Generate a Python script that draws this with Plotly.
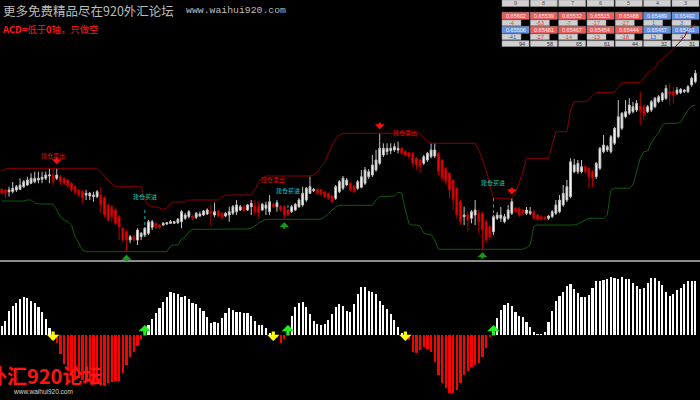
import plotly.graph_objects as go

# ---------------- price data (one candle per bar) ----------------
open_ = [70.7, 70, 68.3, 68.3, 70, 70.7, 73.3, 75, 76.7, 78.3,
         80, 80.7, 81.7, 84, 85, 81.7, 83.3, 81.7, 80, 76.7,
         73.3, 70, 68.3, 65, 64, 63.3, 63.3, 65, 62.7, 55,
         53.3, 50, 43.3, 31.7, 28.3, 20, 23.3, 20, 23.3, 25,
         26.7, 32.7, 36.7, 35, 35, 36, 36.7, 36.7, 37.3, 38.3,
         41.7, 43.3, 44, 42.7, 44, 45, 46, 48.3, 45, 49,
         46.7, 44, 45, 46.7, 48.3, 50, 53.3, 50, 53.3, 54,
         53.3, 50, 51.7, 48.3, 55.7, 53.3, 53.3, 53.3, 50, 48.3,
         50, 53.3, 55, 60, 66.7, 69.3, 70.7, 70, 68.3, 66.7,
         64, 61.7, 68.3, 71.7, 75, 76.7, 74, 71.7, 72.7, 76.7,
         83.3, 85, 90, 96.7, 105, 108.3, 109.3, 110, 110, 111.7,
         108.3, 107.3, 106.7, 101.7, 100, 96.7, 100, 103.3, 104, 106.7,
         100, 91.7, 86.7, 80, 71.7, 58.3, 43.3, 45, 41.7, 45,
         46.7, 46.7, 38.3, 33.3, 28.3, 41.7, 41.7, 38.3, 41.7, 46.7,
         51.7, 51.7, 50, 46.7, 46.7, 48.3, 45, 43.3, 42.7, 41.7,
         43.3, 46.7, 48.3, 55, 60, 63.3, 88.3, 88.3, 88.3, 93.3,
         91.7, 88.3, 83.3, 91.7, 108.3, 110, 108.3, 116.7, 123.3, 131.7,
         143.3, 146.7, 148.3, 150, 154, 153.3, 148.3, 150, 153.3, 158.3,
         160, 161.7, 168.3, 168.3, 166.7, 167.3, 168.3, 168.3, 175, 178.3]
high = [71.5, 71, 73.3, 78, 75, 81.7, 80, 83.3, 86.7, 88.3,
        88.3, 88.3, 88.3, 91.7, 91.7, 91.7, 85, 83, 81, 78,
        75, 71, 70, 70, 68, 68.3, 70, 73.3, 63.3, 56,
        55, 52, 45, 33, 30, 25, 25, 31.7, 28, 33,
        40, 40, 38, 36, 38, 38, 40, 39, 42, 50,
        47, 50, 45, 48, 48.3, 50, 51.7, 55, 57.3, 50,
        48, 48, 53.3, 55, 60, 55, 55, 56, 60, 60,
        58.3, 57, 58.3, 65, 57, 60, 55, 55, 51, 55,
        57, 62, 73.3, 73, 83.3, 72, 72, 71, 69, 67.5,
        65, 75, 80, 84, 82, 78, 75, 80, 90, 93,
        91, 105, 110, 126.7, 116.7, 116.7, 116.7, 116.7, 118.3, 113,
        110, 108, 108, 103, 101, 105, 108, 116.7, 117, 108,
        101, 93, 88, 81, 73, 60, 53.3, 48, 50, 60,
        50, 48, 40, 35, 45, 48, 53, 46, 55, 61.7,
        53, 53, 51, 53, 53, 50, 46, 45, 44, 45,
        50, 60, 65, 75, 80, 101.7, 101, 100, 100, 95,
        93, 90, 98, 113, 125, 115, 125, 133, 160, 148,
        160, 161.7, 158.3, 160, 168.3, 155, 155, 160, 163, 165,
        168, 175, 176.7, 173.3, 173, 172, 171, 175, 183.3, 190]
low = [65, 61.7, 63.3, 66.7, 68, 70, 72, 74, 76, 76.7,
       76.7, 76.7, 80, 76.7, 75, 80, 75, 75, 72, 68,
       66, 63, 56.7, 60, 60, 58.3, 61.7, 46.7, 43, 38,
       38.3, 35, 20, 18, 8.3, 16.7, 18, 15, 20, 23,
       25, 30, 31, 31, 34, 35, 36, 36, 36, 31.7,
       40, 41.7, 40, 41, 43, 44, 45, 33.3, 42.7, 42,
       40, 43, 38.3, 45, 45, 49, 48, 49, 45, 45,
       41.7, 49, 45, 45, 52, 48.3, 48, 40.7, 44, 47,
       49, 52, 53.3, 58, 66, 68, 65, 64, 62, 60,
       56.7, 60, 67, 70, 74, 68, 67, 70, 71.7, 75,
       81, 83, 88.3, 95, 103, 105, 106, 108, 106.7, 105,
       103, 101, 93.3, 90, 86.7, 95, 98, 101.7, 102, 85,
       78.3, 75, 62, 50, 41.7, 35, 35, 28.3, 36.7, 35,
       26.7, 10.7, 16.7, 20, 25, 40, 38, 36.7, 40, 45,
       47, 43, 45, 45, 45, 40, 39, 39, 40, 40,
       42, 45, 46.7, 53.3, 58, 61.7, 86.7, 86, 86.7, 86,
       71.7, 73, 81, 90, 106.7, 108, 106.7, 115, 121.7, 130,
       141.7, 145, 146.7, 148, 135, 140, 147, 148, 151.7, 156.7,
       158, 160, 155, 156.7, 165, 166, 167, 167, 173.3, 176.7]
close = [67.3, 66.7, 70, 71.7, 73.3, 75, 78.3, 80, 81.7, 81.7,
         81.7, 82.7, 85, 85, 78.3, 85, 78.3, 76.7, 74, 70,
         67.3, 65, 61.7, 66.7, 66.7, 65, 68.3, 55, 45, 40,
         43.3, 36.7, 33.3, 20, 20, 23.3, 20, 30, 26.7, 31.7,
         38.3, 38.3, 32.7, 32.7, 36.7, 37.3, 38.3, 38.3, 40.7, 48.3,
         45, 48.3, 41.7, 46.7, 46, 49, 50, 46.7, 48.3, 44,
         42.7, 46.7, 48.3, 53.3, 55, 53.3, 49, 55, 56.7, 48.3,
         47.3, 55.7, 55, 58.3, 53.3, 57.3, 50, 45, 45, 53.3,
         55.7, 60, 66.7, 71.7, 73.3, 70.7, 66.7, 66, 63.3, 61.7,
         58.3, 73.3, 78.3, 81.7, 80, 70, 68.3, 78.3, 83.3, 90,
         88.3, 95, 100, 111.7, 111.7, 111.7, 111.7, 113.3, 111.7, 106.7,
         105, 103.3, 96.7, 95, 93.3, 103.3, 106.7, 110, 110, 88.3,
         81.7, 78.3, 70, 60, 45, 38.3, 45, 40, 48.3, 50,
         38.3, 30, 20, 23.3, 43.3, 45, 45, 43.3, 50, 58.3,
         48.3, 45, 46.7, 50, 48.3, 41.7, 40.7, 40.7, 40.7, 44,
         48.3, 55, 60, 66.7, 73.3, 98.3, 95, 96.7, 93.3, 88.3,
         83.3, 81.7, 96.7, 111.7, 115, 113.3, 123.3, 131.7, 143.3, 146.7,
         148.3, 155, 153.3, 156.7, 149.3, 145, 153.3, 158.3, 161.7, 163.3,
         166.7, 171.7, 166, 165, 170, 170.7, 170, 173.3, 181.7, 186.7]

# channel lines
upper_band = [89, 91, 91.7, 91.7, 91.7, 91.7, 91.7, 91.7, 91.7, 91.7,
              91.7, 91.7, 91.7, 91.7, 91.7, 91.7, 91.7, 91.7, 91.7, 91.7,
              91.7, 91.7, 91.7, 91.7, 91.7, 91.7, 91.7, 88, 84, 80,
              76, 73.3, 73.3, 73.3, 73.3, 73.3, 73.3, 73.3, 73.3, 60,
              55, 53.3, 53.3, 52, 50.7, 51.7, 56, 58, 58, 57.7,
              58, 60, 60, 60, 60, 60, 60, 60, 60, 60,
              63, 65, 65, 65, 65, 65, 65, 65, 65, 70,
              78, 82, 84, 84, 84, 84, 84, 84, 84, 84,
              84, 84, 84, 84, 84, 85, 88, 93, 97, 107,
              114, 121, 125, 126.7, 126.7, 126.7, 126.7, 126.7, 126.7, 126.7,
              126.7, 126.7, 126.7, 126.7, 126.7, 126.7, 126.7, 126.7, 126.7, 126.7,
              126.7, 126.7, 126.7, 126.7, 126.7, 122, 118.3, 116.7, 116.7, 116.7,
              116.7, 116.7, 116.7, 116.7, 116.7, 116.7, 116.7, 116.7, 116.7, 116.7,
              110, 100, 90, 75, 61.7, 61.7, 61.7, 61.7, 61.7, 61.7,
              67, 77, 88, 101.7, 101.7, 101.7, 101.7, 101.7, 101.7, 101.7,
              115, 128.3, 128.3, 128.3, 128.3, 150, 158.3, 158.3, 158.3, 158.3,
              160, 165, 167.3, 167.3, 167.3, 167.3, 167.3, 168, 173, 177,
              177.3, 177.3, 177.3, 177.3, 177.3, 182, 187, 190, 192, 198,
              202, 205, 207, 211, 215, 220, 223, 230, 233, 236]
lower_band = [59, 59, 59, 59, 59, 59, 59, 60, 60, 57,
              56, 56, 56, 56, 56, 50, 43, 40, 38.3, 35,
              23, 17, 10, 8.3, 8.3, 8.3, 8.3, 8.3, 8.3, 8.3,
              8.3, 8.3, 8.3, 8.3, 8.3, 8.3, 8.3, 8.3, 8.3, 8.3,
              8.3, 8.3, 8.3, 8.3, 8.3, 8.3, 14, 15, 15, 21,
              23, 28, 30.7, 30.7, 30.7, 30.7, 30.7, 30.7, 30.7, 30.7,
              30.7, 30.7, 31, 31, 31, 31, 31, 31, 32, 34,
              37, 39, 40.7, 40.7, 40.7, 40.7, 40.7, 40.7, 40.7, 40.7,
              40.7, 40.7, 40.7, 40.7, 40.7, 40.7, 40.7, 40.7, 43, 47,
              50, 53, 54.7, 54.7, 54.7, 54.7, 54.7, 54.7, 54.7, 54.7,
              54.7, 54.7, 60, 63.3, 63.3, 63.3, 63.3, 64, 67.7, 67,
              50, 36, 35, 35, 34, 27, 25.7, 25.7, 20, 10.7,
              10.7, 10.7, 10.7, 10.7, 10.7, 10.7, 10.7, 10.7, 10.7, 10.7,
              10.7, 10.7, 10.7, 10.7, 10.7, 10.7, 10.7, 10.7, 10.7, 10.7,
              10.7, 10.7, 10.7, 12.5, 15, 34, 35, 35, 35, 35,
              35, 35, 35, 35, 35, 35, 35, 36, 38, 40,
              41.7, 41.7, 41.7, 41.7, 41.7, 45, 70, 71.7, 71.7, 71.7,
              71.7, 71.7, 75, 88, 102, 108.3, 109, 117, 123, 127,
              135, 136.7, 136.7, 136.7, 136.7, 138, 144, 150, 154, 155]

# oscillator (ACD) histogram
acd = [9.3, 14.3, 24, 29, 31.7, 35.7, 37.7, 36.7, 34.3, 31.7,
       27.7, 23.3, 16, 6.7, -1.5, -7.7, -19.3, -29, -35, -40,
       -41.7, -43.3, -45, -45.7, -46.7, -47.7, -48.3, -49, -51, -48.3,
       -46.7, -45.7, -45.7, -37.7, -30, -22.3, -16.7, -11, -4, 2,
       10, 15.7, 21.7, 26.7, 32.7, 37.7, 42.7, 42.3, 41, 38.3,
       39, 36, 31.7, 31, 26.7, 24.3, 18.3, 12.3, 13.3, 12.3,
       16.7, 21.7, 26.7, 25, 23.3, 23.3, 22.3, 21.7, 19, 14,
       10, 10, 6.7, 2.3, -1, -2.5, -7.7, -4, 3, 19,
       27.7, 32.3, 33.3, 28.3, 21, 14.3, 11, 10, 11, 15,
       20.7, 27.7, 30.7, 29, 24.3, 23.3, 30.7, 41, 47.7, 47.7,
       44.3, 42.7, 41, 34.3, 30, 25.7, 21, 15, 8.3, 1.7,
       -1, -5, -16.7, -18.3, -15, -12.3, -14.3, -16.7, -26.7, -40,
       -47.7, -53.3, -58.3, -58.3, -55, -47.7, -40, -35.7, -31.7, -30,
       -27.7, -21.7, -13.3, -2.3, 2, 16.7, 25, 30, 32.3, 29,
       23.3, 19, 17.7, 13.3, 8.3, 3.3, 1, 1, 3.3, 13.3,
       24.3, 33.7, 39, 43.3, 49, 51, 46, 41.7, 38.3, 38.3,
       40, 47.3, 54, 54, 55, 56, 58.3, 57.3, 56, 57.7,
       56, 55.7, 52.3, 49, 45.7, 47.3, 52.3, 56.7, 56.7, 54.3,
       50, 42.7, 39, 40.7, 45, 46.7, 51, 54.3, 54.3, 53.7]

# signals
sell_idx = [15, 103, 139]
buy_idx = [34, 77, 131]
cross_down_idx = [14, 74, 110]
cross_up_idx = [39, 78, 134]
sell_label_price = [104.3, 81, 128]
buy_label_price = [63.3, 69.3, 77.3]
buy_line_top = [50, 55, 61.7]
buy_line_bottom = [33.3, 48.3, 43.3]
sell_label = "建仓卖出"
buy_label = "建仓买进"

# quote table
table_headers = ["9", "8", "7", "6", "5", "4", "3"]
row1_price = [0.65602, 0.65539, 0.65532, 0.65515, 0.65488, 0.65489, 0.65492]
row1_diff = [-4, -63, -7, -17, -27, 1, 3]
row1_dir = ["dn", "dn", "dn", "dn", "dn", "up", "up"]
row2_price = [0.65506, 0.65481, 0.65467, 0.65454, 0.65444, 0.65457, 0.65461]
row2_diff = [-41, -27, -14, -13, -18, 13, 4]
row2_dir = ["up", "dn", "dn", "dn", "dn", "up", "up"]
row_counts = [94, 58, 65, 61, 44, 32, 31]

title_cn = "更多免费精品尽在920外汇论坛"
title_url = "www.waihui920.com"
acd_note = "<b>ACD=</b>低于<b>0</b>轴，只做空"
watermark = "外汇920论坛"

# ---------------- figure ----------------
W, H = 700, 400
n = len(close)
xs = list(range(n))
BAR_PX = 3.67
x_lo = -1.7 / BAR_PX
x_hi = x_lo + W / BAR_PX


def pxx(p):
    return p / W


def pxy(p):
    return 1 - p / H


fig = go.Figure()

fig.add_trace(go.Candlestick(
    x=xs, open=open_, high=high, low=low, close=close,
    increasing=dict(fillcolor="#ffffff", line=dict(color="#c4c4c4", width=1)),
    decreasing=dict(fillcolor="#ff0000", line=dict(color="#b80000", width=1)),
    whiskerwidth=0, xaxis="x", yaxis="y", showlegend=False, hoverinfo="skip"))

fig.add_trace(go.Scatter(x=xs, y=upper_band, mode="lines",
                         line=dict(color="#8a0000", width=1), xaxis="x", yaxis="y",
                         showlegend=False, hoverinfo="skip"))
fig.add_trace(go.Scatter(x=xs, y=lower_band, mode="lines",
                         line=dict(color="#0f5a0f", width=1), xaxis="x", yaxis="y",
                         showlegend=False, hoverinfo="skip"))

dx, dy = [], []
for i, t, b in zip(cross_up_idx, buy_line_top, buy_line_bottom):
    dx += [i, i, None]
    dy += [t, b, None]
fig.add_trace(go.Scatter(x=dx, y=dy, mode="lines",
                         line=dict(color="#18b4b4", width=1, dash="dot"),
                         xaxis="x", yaxis="y", showlegend=False, hoverinfo="skip"))

bar_colors = ["#ffffff" if v >= 0 else "#ff0000" for v in acd]
fig.add_trace(go.Bar(x=xs, y=acd, width=0.6, marker=dict(color=bar_colors, line=dict(width=0)),
                     xaxis="x2", yaxis="y2", showlegend=False, hoverinfo="skip"))

ann = []
# top-panel arrows
for i in sell_idx:
    ann.append(dict(x=i, y=high[i], xref="x", yref="y", text="", showarrow=True,
                    arrowhead=1, arrowsize=0.75, arrowwidth=2.2, arrowcolor="#ff1010",
                    ax=0, ay=-8, yshift=4))
for i in buy_idx:
    ann.append(dict(x=i, y=low[i], xref="x", yref="y", text="", showarrow=True,
                    arrowhead=1, arrowsize=0.75, arrowwidth=2.2, arrowcolor="#1a9a1a",
                    ax=0, ay=8, yshift=-3))
# labels
for i, p in zip(cross_down_idx, sell_label_price):
    ann.append(dict(x=i, y=p, xref="x", yref="y", text=sell_label, showarrow=False,
                    font=dict(size=6, color="#e01010", family="Noto Sans CJK SC")))
for i, p in zip(cross_up_idx, buy_label_price):
    ann.append(dict(x=i, y=p, xref="x", yref="y", text=buy_label, showarrow=False,
                    font=dict(size=6, color="#18c8c8", family="Noto Sans CJK SC")))
# oscillator arrows
for i in cross_down_idx:
    ann.append(dict(x=i, y=0, xref="x2", yref="y2", text="", showarrow=True,
                    arrowhead=1, arrowsize=0.65, arrowwidth=3.2, arrowcolor="#ffff00",
                    ax=0, ay=-11, yshift=-6))
for i in cross_up_idx:
    ann.append(dict(x=i, y=0, xref="x2", yref="y2", text="", showarrow=True,
                    arrowhead=1, arrowsize=0.65, arrowwidth=3.2, arrowcolor="#22ee22",
                    ax=0, ay=12, yshift=10))

# header texts
ann.append(dict(x=pxx(1), y=pxy(10), xref="paper", yref="paper", xanchor="left", yanchor="middle",
                text=title_cn, showarrow=False,
                font=dict(size=12.5, color="#bdbdbd", family="Noto Sans CJK SC")))
ann.append(dict(x=pxx(184), y=pxy(10), xref="paper", yref="paper", xanchor="left", yanchor="middle",
                text=title_url, showarrow=False,
                font=dict(size=9.8, color="#bdbdbd", family="Liberation Mono")))
ann.append(dict(x=pxx(0), y=pxy(29.5), xref="paper", yref="paper", xanchor="left", yanchor="middle",
                text=acd_note, showarrow=False,
                font=dict(size=9.4, color="#ff1a1a", family="Noto Sans CJK SC")))
ann.append(dict(x=pxx(-15), y=pxy(375), xref="paper", yref="paper", xanchor="left", yanchor="middle",
                text="<b>" + watermark + "</b>", showarrow=False,
                font=dict(size=20, color="#ff1414", family="Noto Sans CJK SC")))
ann.append(dict(x=pxx(11), y=pxy(391), xref="paper", yref="paper", xanchor="left", yanchor="middle",
                text=title_url, showarrow=False,
                font=dict(size=6.5, color="#d8d8d8", family="Liberation Sans")))

shapes = [dict(type="line", xref="paper", yref="paper", x0=0, x1=1, y0=pxy(261), y1=pxy(261),
               line=dict(color="#8c8c8c", width=2))]

# quote table
T_X0, T_STEP, T_W, T_SMALL = 502, 28.33, 27, 19
RED_CELL, BLUE_CELL, GREY_CELL = "#ef5a5a", "#5f8fe3", "#d0d0d0"
rows_y = dict(head=(0, 6.5), p1=(12.3, 19.3), d1=(20, 25.7), p2=(26.3, 33.3), d2=(34, 39.7), cnt=(40.7, 46.5))


def cell(x0, x1, y0, y1, fill):
    shapes.append(dict(type="rect", xref="paper", yref="paper", layer="below",
                       x0=pxx(x0), x1=pxx(x1), y0=pxy(y1), y1=pxy(y0),
                       fillcolor=fill, line=dict(color="#9a9a9a", width=0.5)))


def ctext(txt, x, y, color, anchor="center"):
    ann.append(dict(x=pxx(x), y=pxy(y), xref="paper", yref="paper", text=txt, showarrow=False,
                    xanchor=anchor, yanchor="middle",
                    font=dict(size=5.5, color=color, family="Liberation Sans")))


for c in range(len(table_headers)):
    x0 = T_X0 + c * T_STEP
    x1 = x0 + T_W
    xm = (x0 + x1) / 2
    y0, y1 = rows_y["head"]
    cell(x0, x1, y0, y1, GREY_CELL)
    ctext(table_headers[c], xm, (y0 + y1) / 2, "#505050")
    for key_p, key_d, prices, diffs, dirs in (("p1", "d1", row1_price, row1_diff, row1_dir),
                                              ("p2", "d2", row2_price, row2_diff, row2_dir)):
        y0, y1 = rows_y[key_p]
        up = dirs[c] == "up"
        cell(x0, x1, y0, y1, BLUE_CELL if up else RED_CELL)
        ctext(f"{prices[c]:.5f}", xm, (y0 + y1) / 2, "#f4f4ff" if up else "#fff0f0")
        y0, y1 = rows_y[key_d]
        cell(x0, x0 + T_SMALL, y0, y1, GREY_CELL)
        ctext(str(diffs[c]), x0 + T_SMALL / 2, (y0 + y1) / 2, "#3a5cd8" if up else "#e03a3a")
    y0, y1 = rows_y["cnt"]
    cell(x0, x1, y0, y1, GREY_CELL)
    ctext(str(row_counts[c]), x1 - 2, (y0 + y1) / 2, "#303030", anchor="right")

axis_common = dict(visible=False, showgrid=False, zeroline=False, fixedrange=True)
fig.update_layout(
    width=W, height=H, autosize=False,
    margin=dict(l=0, r=0, t=0, b=0, pad=0),
    paper_bgcolor="#000000", plot_bgcolor="#000000",
    showlegend=False, bargap=0,
    xaxis=dict(domain=[0, 1], range=[x_lo, x_hi], anchor="y", rangeslider=dict(visible=False), **axis_common),
    yaxis=dict(domain=[pxy(260), 1], range=[0, 260], anchor="x", **axis_common),
    xaxis2=dict(domain=[0, 1], range=[x_lo, x_hi], anchor="y2", **axis_common),
    yaxis2=dict(domain=[0, pxy(262)], range=[-65, 73], anchor="x2", **axis_common),
    annotations=ann, shapes=shapes,
)

fig.write_html("out.html", config={"displayModeBar": False},
               post_script="document.body.style.margin='0px';document.body.style.background='#000';")
